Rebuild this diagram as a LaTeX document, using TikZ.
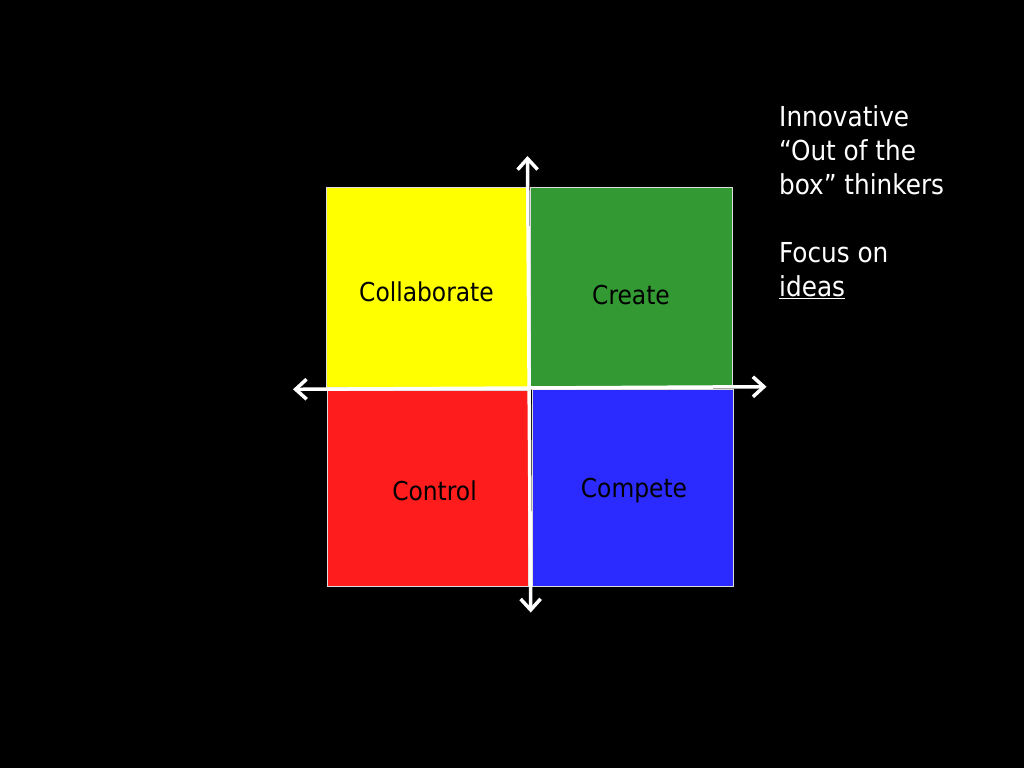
\documentclass[tikz,border=0pt]{standalone}
\usepackage{fontspec}
\setmainfont{DejaVu Sans Condensed}
\usetikzlibrary{arrows.meta}
\definecolor{qyellow}{RGB}{255,255,0}
\definecolor{qgreen}{RGB}{51,153,51}
\definecolor{qred}{RGB}{255,28,28}
\definecolor{qblue}{RGB}{43,43,255}
\definecolor{qedge}{RGB}{220,220,220}
\tikzset{
  qlabel/.style={anchor=base, inner sep=0pt, text=black, font=\fontsize{26}{30}\selectfont},
  side/.style={anchor=base west, inner sep=0pt, text=white, font=\fontsize{27.5}{30}\selectfont},
  axis/.style={draw=white, line width=3.5pt, {Straight Barb[length=11pt,width=20pt,line width=3.5pt]}-{Straight Barb[length=11pt,width=20pt,line width=3.5pt]}}
}
\begin{document}
\begin{tikzpicture}[x=1pt,y=-1pt]
\fill[black] (0,0) rectangle (1024,768);
\useasboundingbox (0,0) rectangle (1024,768);
% quadrants
\fill[qyellow, draw=qedge, line width=0.8pt] (326.5,187.3) rectangle (528.3,387.5);
\fill[qgreen, draw=qedge, line width=0.8pt] (530.7,187.3) rectangle (732.5,386);
\fill[qred, draw=qedge, line width=0.8pt] (327.3,390.7) rectangle (528.3,586.7);
\fill[qblue, draw=qedge, line width=0.8pt] (532,389.3) rectangle (733.3,586.7);
% labels
\node[qlabel] (collab) at (426.5,301.7) {Collaborate};
\node[qlabel] (create) at (631,304) {Create};
\node[qlabel] (control) at (434.5,500.5) {Control};
\node[qlabel] (compete) at (634,497.7) {Compete};
% axes
\coordinate (top) at (527.5,156);
\coordinate (bottom) at (530.7,612.5);
\coordinate (left) at (293,389.3);
\coordinate (right) at (766.5,386.7);
\draw[axis] (top) -- (bottom);
\draw[axis] (left) -- (right);
% side text
\node[side] (l1) at (779,126.7) {Innovative};
\node[side] (l2) at (779,160.7) {“Out of the};
\node[side] (l3) at (779,194.5) {box” thinkers};
\node[side] (l4) at (779,262) {Focus on};
\node[side] (l5) at (779,296) {\underline{ideas}};
\end{tikzpicture}
\end{document}
